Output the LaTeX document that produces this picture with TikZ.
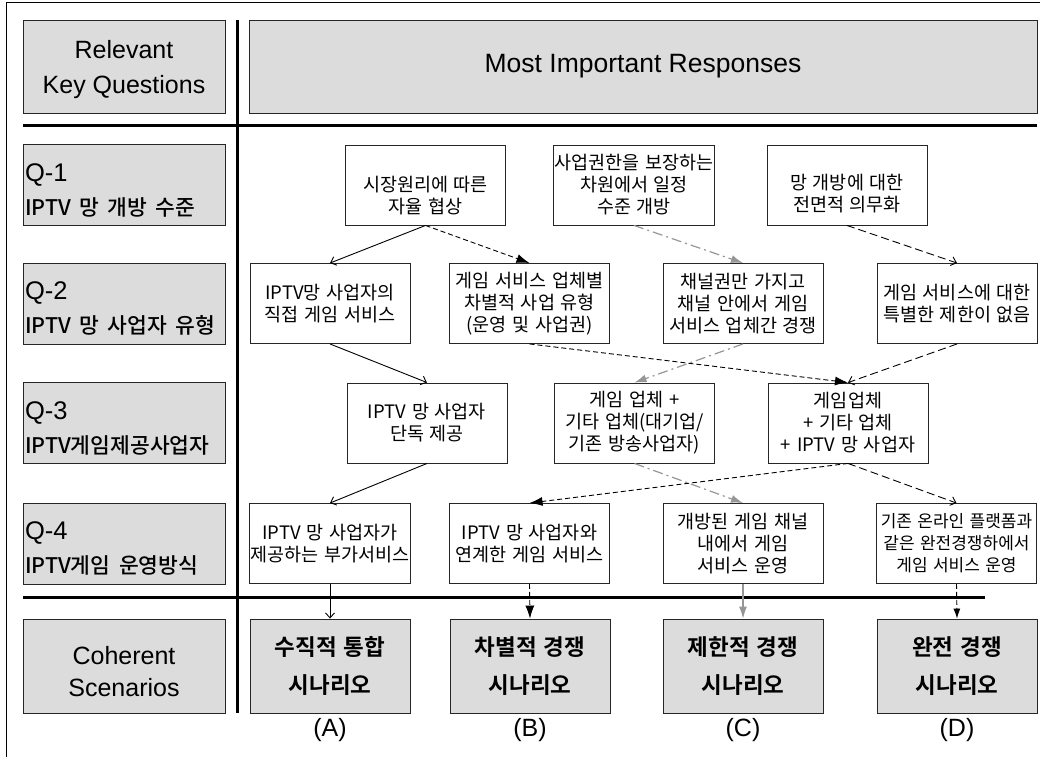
\documentclass[tikz,border=0pt]{standalone}
\usepackage{fontspec}
\usepackage{tikz}
\usetikzlibrary{calc,arrows.meta}
\setmainfont{Liberation Sans}
\newfontfamily\kr{Noto Sans CJK KR}[WordSpace=1.4,BoldFont={Noto Sans CJK KR Bold}]
\newfontfamily\krm{Noto Sans CJK KR Medium}
\definecolor{boxgray}{RGB}{220,220,220}
\definecolor{arrowgray}{RGB}{150,150,150}

\begin{document}
\begin{tikzpicture}[x=1pt,y=-1pt]
        \useasboundingbox (0,0) rectangle (1040,757);
        \tikzstyle{every node}=[draw=black!85,line width=0.9pt,inner sep=3pt]
        \tikzstyle{graybox}=[fill=boxgray,minimum width=202pt,minimum height=81pt]
        \tikzstyle{qbox}=[graybox,align=left,text width=198pt,inner sep=2pt,font=\fontsize{25.5}{34}\selectfont]
        \tikzstyle{resp}=[fill=white,minimum width=160pt,minimum height=80pt,inner sep=1pt,align=center,font=\kr\fontsize{18.5}{22}\selectfont]
        \tikzstyle{scen}=[graybox,minimum width=160pt,minimum height=94pt,align=center,font=\kr\bfseries\fontsize{22.5}{38}\selectfont]
        \tikzstyle{letter}=[draw=none,font=\fontsize{25}{28}\selectfont]
        \tikzstyle{plainarr}=[line width=0.9pt,-{Straight Barb[length=5pt,width=9pt]}]
        \tikzstyle{dasharr}=[line width=0.9pt,dash pattern=on 5pt off 3pt,-{Latex[length=13pt,width=9pt]}]
        \tikzstyle{longdasharr}=[line width=0.9pt,dash pattern=on 8pt off 4pt,-{Straight Barb[length=5pt,width=9pt]}]
        \tikzstyle{dashdotarr}=[arrowgray,line width=1.2pt,dash pattern=on 10pt off 4pt on 2pt off 4pt,-{Latex[length=12pt,width=8pt]}]
        % frame and grid lines
        \draw[line width=1pt] (6,757) -- (6,3) -- (1040,3);
        \draw[line width=3pt] (237,20) -- (237,713);
        \draw[line width=3pt] (23,125) -- (1037,125);
        \draw[line width=3pt] (23,597) -- (985,597);
        % headers
        \node[graybox,minimum height=93pt,align=center,font=\fontsize{25}{35}\selectfont] (kq) at (124,66.5) {\rule{0pt}{24pt}Relevant\\Key Questions};
        \node[graybox,minimum width=788pt,minimum height=93pt,font=\fontsize{26.5}{30}\selectfont] (mir) at (643,66.5) {Most Important Responses};
        % key questions
        \node[qbox] (q1) at (124,185) {\rule{0pt}{28pt}Q-1\\{\krm\fontsize{21.5}{24}\selectfont IPTV 망 개방 수준}};
        \node[qbox] (q2) at (124,303.5) {\rule{0pt}{28pt}Q-2\\{\krm\fontsize{21.5}{24}\selectfont IPTV 망 사업자 유형}};
        \node[qbox] (q3) at (124,423) {\rule{0pt}{28pt}Q-3\\{\krm\fontsize{21.5}{24}\selectfont IPTV게임제공사업자}};
        \node[qbox] (q4) at (124,543.5) {\rule{0pt}{28pt}Q-4\\{\krm\fontsize{21.5}{24}\selectfont IPTV게임 운영방식}};
        \node[graybox,minimum height=94pt,align=center,font=\fontsize{25}{32}\selectfont] (cs) at (124,666) {\rule{0pt}{30pt}Coherent\\Scenarios};
        % responses
        \node[resp] (r11) at (425.5,185) {\rule{0pt}{36pt}시장원리에 따른\\자율 협상};
        \node[resp] (r12) at (634,185) {사업권한을 보장하는\\차원에서 일정\\수준 개방};
        \node[resp] (r13) at (847,185) {\rule{0pt}{32pt}망 개방에 대한\\전면적 의무화};
        \node[resp] (r21) at (330,303.5) {IPTV망 사업자의\\직접 게임 서비스};
        \node[resp] (r22) at (529.5,303.5) {게임 서비스 업체별\\차별적 사업 유형\\(운영 및 사업권)};
        \node[resp] (r23) at (743,303.5) {채널권만 가지고\\채널 안에서 게임\\서비스 업체간 경쟁};
        \node[resp] (r24) at (957,303.5) {게임 서비스에 대한\\특별한 제한이 없음};
        \node[resp] (r31) at (427,423) {IPTV 망 사업자\\단독 제공};
        \node[resp] (r32) at (634.5,423) {게임 업체 +\\기타 업체(대기업/\\기존 방송사업자)};
        \node[resp] (r33) at (848,423) {게임업체\\+ 기타 업체\\+ IPTV 망 사업자};
        \node[resp] (r41) at (330,543.5) {IPTV 망 사업자가\\제공하는 부가서비스};
        \node[resp] (r42) at (529.5,543.5) {IPTV 망 사업자와\\연계한 게임 서비스};
        \node[resp] (r43) at (743,543.5) {개방된 게임 채널\\내에서 게임\\서비스 운영};
        \node[resp,font=\kr\fontsize{17}{22}\selectfont] (r44) at (956.5,543.5) {기존 온라인 플랫폼과\\같은 완전경쟁하에서\\게임 서비스 운영};
        % scenarios
        \node[scen] (s1) at (330,666) {수직적 통합\\시나리오};
        \node[scen] (s2) at (530,666) {차별적 경쟁\\시나리오};
        \node[scen] (s3) at (743,666) {제한적 경쟁\\시나리오};
        \node[scen] (s4) at (957,666) {완전 경쟁\\시나리오};
        \node[letter] (la) at ($(s1.south)+(0,17)$) {(A)};
        \node[letter] (lb) at ($(s2.south)+(0,17)$) {(B)};
        \node[letter] (lc) at ($(s3.south)+(0,17)$) {(C)};
        \node[letter] (ld) at ($(s4.south)+(0,17)$) {(D)};
        % Arrows between rows
        \draw[plainarr] (r11.south) -- (r21.north);
        \draw[dasharr] (r11.south) -- (r22.north);
        \draw[dashdotarr] (r12.south) -- (r23.north);
        \draw[longdasharr] (r13.south) -- (r24.north);
        \draw[plainarr] (r21.south) -- (r31.north);
        \draw[dasharr] (r22.south) -- (r33.north);
        \draw[dashdotarr] (r23.south) -- (r32.north);
        \draw[longdasharr] (r24.south) -- (r33.north);
        \draw[plainarr] (r31.south) -- (r41.north);
        \draw[dasharr] (r33.south) -- (r42.north);
        \draw[dashdotarr] (r32.south) -- (r43.north);
        \draw[longdasharr] (r33.south) -- (r44.north);
        \draw[plainarr] (r41.south) -- (s1.north);
        \draw[dasharr] (r42.south) -- (s2.north);
        \draw[dashdotarr,solid] (r43.south) -- (s3.north);
        \draw[dasharr,-{Latex[length=10pt,width=7pt]}] (r44.south) -- (s4.north);
    \end{tikzpicture}
\end{document}
